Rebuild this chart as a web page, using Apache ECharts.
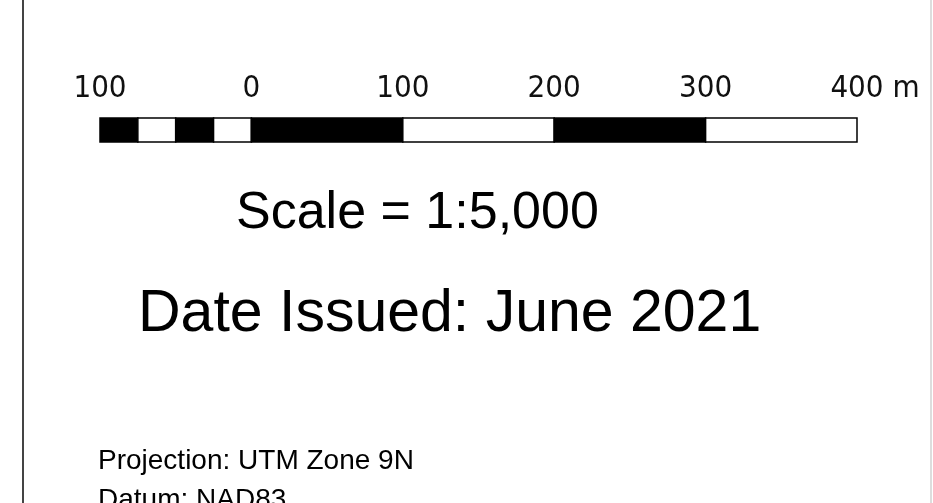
<!DOCTYPE html>
<html>
<head>
<meta charset="utf-8">
<script src="https://cdn.jsdelivr.net/npm/echarts@6/dist/echarts.min.js"></script>
<style>
html,body{margin:0;padding:0;background:#fff;}
#chart{width:933px;height:503px;}
</style>
</head>
<body>
<div id="chart"></div>
<script>
// Scale bar segments (metres): start, end, fill (1 = black, 0 = white)
var segStart = [-100, -75, -50, -25, 0, 100, 200, 300];
var segEnd   = [-75, -50, -25, 0, 100, 200, 300, 400];
var segFill  = [1, 0, 1, 0, 1, 0, 1, 0];
// Tick labels
var tickValues = [-100, 0, 100, 200, 300, 400];
var unitLabel = 'm';
var scaleText = 'Scale = 1:5,000';
var dateText = 'Date Issued: June 2021';
var projText = 'Projection: UTM Zone 9N';
var datumText = 'Datum: NAD83';

var data = segStart.map(function (s, i) { return [s, segEnd[i], segFill[i]]; });

var chart = echarts.init(document.getElementById('chart'));
var option = {
  backgroundColor: '#fff',
  animation: false,
  grid: { left: 100, top: 118, width: 757, height: 24 },
  xAxis: {
    type: 'value', min: -100, max: 400, interval: 100, position: 'top',
    axisLine: { show: false }, axisTick: { show: false }, splitLine: { show: false },
    axisLabel: {
      show: true, margin: 14, showMinLabel: true, showMaxLabel: true,
      fontFamily: 'DejaVu Sans Condensed, DejaVu Sans', fontSize: 31, color: '#111',
      formatter: function (v) {
        if (tickValues.indexOf(v) < 0) return '';
        if (v === 400) return '{u|' + v + ' ' + unitLabel + '}';
        return String(Math.abs(v));
      },
      rich: { u: { fontFamily: 'DejaVu Sans Condensed, DejaVu Sans', fontSize: 31, color: '#111', padding: [0, 0, 0, 36] } }
    }
  },
  yAxis: { type: 'value', min: 0, max: 1, show: false },
  series: [{
    type: 'custom',
    data: data,
    renderItem: function (params, api) {
      var p0 = api.coord([api.value(0), 1]);
      var p1 = api.coord([api.value(1), 0]);
      var black = api.value(2) === 1;
      return {
        type: 'rect',
        shape: { x: p0[0], y: p0[1], width: p1[0] - p0[0], height: p1[1] - p0[1] },
        style: { fill: black ? '#000' : '#fff', stroke: '#000', lineWidth: 1.5 }
      };
    }
  }],
  title: [
    { text: scaleText, left: 231, top: 183, textStyle: { fontFamily: 'Liberation Sans, Arial', fontSize: 52, fontWeight: 'normal', color: '#000' } },
    { text: dateText, left: 133, top: 280, textStyle: { fontFamily: 'Liberation Sans, Arial', fontSize: 59, fontWeight: 'normal', color: '#000' } },
    { text: projText, left: 93, top: 442, textStyle: { fontFamily: 'Liberation Sans, Arial', fontSize: 28, fontWeight: 'normal', color: '#000' } },
    { text: datumText, left: 93, top: 481, textStyle: { fontFamily: 'Liberation Sans, Arial', fontSize: 28, fontWeight: 'normal', color: '#000' } }
  ],
  graphic: [
    { type: 'line', shape: { x1: 23, y1: 0, x2: 23, y2: 503 }, style: { stroke: '#444', lineWidth: 2 } },
    { type: 'line', shape: { x1: 931, y1: 0, x2: 931, y2: 503 }, style: { stroke: '#bbb', lineWidth: 1 } }
  ]
};
chart.setOption(option);
</script>
</body>
</html>
